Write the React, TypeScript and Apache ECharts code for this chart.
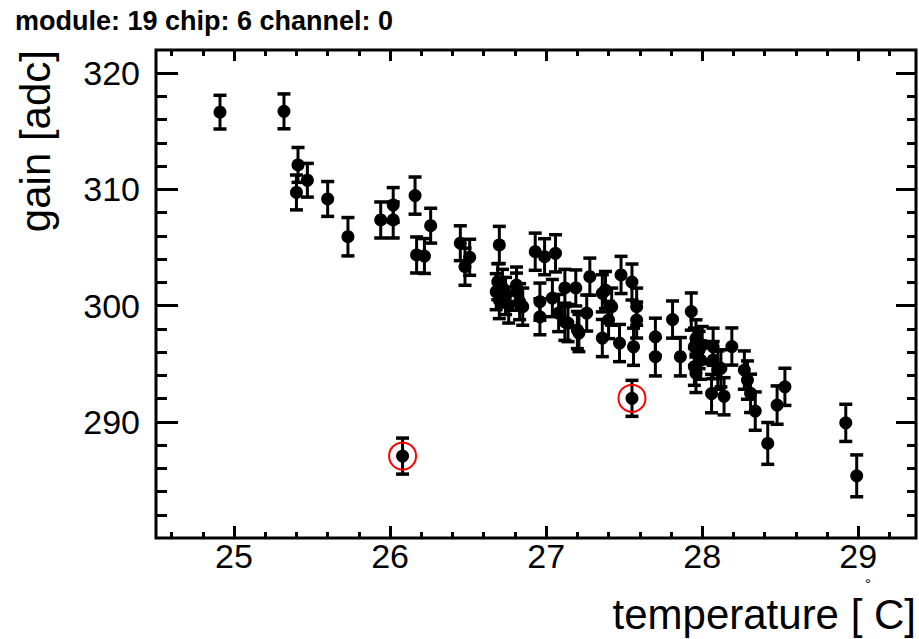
import React, { useEffect, useRef } from "react";
import * as echarts from "echarts";

// measured temperature [°C]
const temperature = [
  24.91, 25.32, 25.41, 25.40, 25.47, 25.60, 25.73, 25.94, 26.02, 26.02,
  26.16, 26.17, 26.22, 26.26, 26.45, 26.51, 26.48, 26.70, 26.69, 26.68,
  26.70, 26.72, 26.81, 26.81, 26.83, 26.85, 26.74, 26.76, 26.93, 26.99,
  27.06, 26.96, 26.96, 27.04, 27.12, 27.19, 27.08, 27.14, 27.21, 27.28,
  27.26, 27.38, 27.48, 27.55, 27.36, 27.42, 27.40, 27.47, 27.58, 27.58,
  27.56, 27.70, 27.70, 27.81, 27.93, 27.86, 27.95, 27.98, 27.99, 27.95,
  28.07, 28.10, 28.06, 28.14, 28.19, 28.27, 28.29, 28.31, 28.34, 28.42,
  28.48, 28.53, 28.92, 28.99, 26.08, 27.55, 27.12, 27.20, 27.36, 27.96,
  28.00, 27.96, 28.07, 28.12,
];

// gain [adc]
const gain = [
  316.65, 316.72, 312.11, 309.74, 310.79, 309.18, 305.93, 307.37, 308.66, 307.37,
  309.47, 304.36, 304.27, 306.88, 305.37, 304.16, 303.35, 305.22, 302.06, 301.20,
  300.48, 301.52, 301.77, 301.20, 300.34, 299.91, 300.83, 300.05, 304.64, 304.21,
  304.50, 300.34, 299.04, 300.65, 301.52, 301.52, 299.36, 298.50, 297.64, 302.49,
  299.36, 301.34, 302.64, 302.03, 297.21, 299.91, 298.76, 296.78, 299.91, 298.76,
  296.46, 297.32, 295.60, 298.80, 299.49, 295.60, 296.46, 296.18, 295.31, 294.74,
  295.31, 294.45, 292.43, 292.20, 296.48, 294.45, 293.59, 292.45, 290.92, 288.14,
  291.44, 293.01, 289.91, 285.35, 287.05, 292.02, 298.61, 297.90, 301.06, 297.18,
  296.60, 294.17, 296.46, 294.60,
];

// gain uncertainty [adc]
const gainError = [
  1.45, 1.50, 1.50, 1.50, 1.45, 1.50, 1.65, 1.55, 1.50, 1.55,
  1.60, 1.55, 1.50, 1.50, 1.50, 1.55, 1.60, 1.60, 1.55, 1.55,
  1.60, 1.60, 1.55, 1.60, 1.55, 1.60, 1.60, 1.55, 1.60, 1.55,
  1.60, 1.60, 1.55, 1.60, 1.60, 1.55, 1.60, 1.60, 1.60, 1.60,
  1.55, 1.60, 1.60, 1.55, 1.60, 1.60, 1.60, 1.60, 1.60, 1.55,
  1.60, 1.60, 1.65, 1.60, 1.60, 1.65, 1.60, 1.60, 1.65, 1.60,
  1.60, 1.65, 1.65, 1.60, 1.60, 1.65, 1.65, 1.65, 1.65, 1.80,
  1.65, 1.60, 1.60, 1.80, 1.55, 1.55, 1.60, 1.60, 1.60, 1.60,
  1.60, 1.65, 1.60, 1.60,
];

// points marked as outliers (indices into the arrays above)
const flaggedIndices = [74, 75];

const xMajorTicks = [25, 26, 27, 28, 29];
const xMinorTicks = [
  24.6, 24.8, 25.2, 25.4, 25.6, 25.8, 26.2, 26.4, 26.6, 26.8,
  27.2, 27.4, 27.6, 27.8, 28.2, 28.4, 28.6, 28.8, 29.2,
];
const yMajorTicks = [290, 300, 310, 320];
const yMinorTicks = [
  282, 284, 286, 288, 292, 294, 296, 298, 302, 304, 306, 308, 312, 314, 316, 318,
];

const X_MIN = 24.5;
const X_MAX = 29.37;
const Y_MIN = 280;
const Y_MAX = 322;

const FONT = "Liberation Sans, Arial, Helvetica, sans-serif";

export default function App() {
  const ref = useRef<HTMLDivElement>(null);

  useEffect(() => {
    if (!ref.current) return;
    const chart = echarts.init(ref.current, undefined, { renderer: "svg" });

    const gridRect = { left: 156, top: 50, width: 760, height: 488 };
    const tickLine = { color: "#000", width: 3 };

    const xAxisBase = {
      type: "value" as const,
      min: X_MIN,
      max: X_MAX,
      axisLine: { show: false },
      splitLine: { show: false },
    };
    const yAxisBase = {
      type: "value" as const,
      min: Y_MIN,
      max: Y_MAX,
      axisLine: { show: false },
      splitLine: { show: false },
    };

    const points = temperature.map((t, i) => [t, gain[i]]);
    const bars = temperature.map((t, i) => [
      t,
      gain[i] - gainError[i],
      gain[i] + gainError[i],
    ]);
    const flagged = flaggedIndices.map((i) => [temperature[i], gain[i]]);

    chart.setOption({
      animation: false,
      backgroundColor: "#fff",
      title: {
        text: "module: 19 chip: 6 channel: 0",
        left: 10,
        top: 2,
        textStyle: {
          fontFamily: FONT,
          fontSize: 27,
          fontWeight: "bold",
          color: "#000",
        },
      },
      grid: [
        {
          ...gridRect,
          show: true,
          borderColor: "#000",
          borderWidth: 3,
          backgroundColor: "transparent",
        },
        { ...gridRect, show: false },
      ],
      xAxis: [
        {
          ...xAxisBase,
          gridIndex: 0,
          position: "bottom",
          axisTick: {
            show: true,
            inside: true,
            length: 12,
            customValues: xMajorTicks,
            lineStyle: tickLine,
          },
          axisLabel: {
            customValues: xMajorTicks,
            margin: 1,
            fontSize: 34,
            fontFamily: FONT,
            color: "#000",
          },
        },
        {
          ...xAxisBase,
          gridIndex: 0,
          position: "top",
          axisTick: {
            show: true,
            inside: true,
            length: 11,
            customValues: xMajorTicks,
            lineStyle: tickLine,
          },
          axisLabel: { show: false },
        },
        {
          ...xAxisBase,
          gridIndex: 1,
          position: "bottom",
          axisTick: {
            show: true,
            inside: true,
            length: 6,
            customValues: xMinorTicks,
            lineStyle: tickLine,
          },
          axisLabel: { show: false },
        },
        {
          ...xAxisBase,
          gridIndex: 1,
          position: "top",
          axisTick: {
            show: true,
            inside: true,
            length: 6,
            customValues: xMinorTicks,
            lineStyle: tickLine,
          },
          axisLabel: { show: false },
        },
      ],
      yAxis: [
        {
          ...yAxisBase,
          gridIndex: 0,
          position: "left",
          axisTick: {
            show: true,
            inside: true,
            length: 22,
            customValues: yMajorTicks,
            lineStyle: tickLine,
          },
          axisLabel: {
            customValues: yMajorTicks,
            margin: 16,
            fontSize: 34,
            fontFamily: FONT,
            color: "#000",
          },
        },
        {
          ...yAxisBase,
          gridIndex: 0,
          position: "right",
          axisTick: {
            show: true,
            inside: true,
            length: 20,
            customValues: yMajorTicks,
            lineStyle: tickLine,
          },
          axisLabel: { show: false },
        },
        {
          ...yAxisBase,
          gridIndex: 1,
          position: "left",
          axisTick: {
            show: true,
            inside: true,
            length: 11,
            customValues: yMinorTicks,
            lineStyle: tickLine,
          },
          axisLabel: { show: false },
        },
        {
          ...yAxisBase,
          gridIndex: 1,
          position: "right",
          axisTick: {
            show: true,
            inside: true,
            length: 9,
            customValues: yMinorTicks,
            lineStyle: tickLine,
          },
          axisLabel: { show: false },
        },
      ],
      graphic: [
        {
          type: "text",
          x: 35,
          y: 50,
          rotation: Math.PI / 2,
          style: {
            text: "gain [adc]",
            fontFamily: FONT,
            fontSize: 42,
            fill: "#000",
            textAlign: "right",
            textVerticalAlign: "middle",
          },
        },
        {
          type: "text",
          x: 916,
          y: 614,
          style: {
            text: "temperature [ C]",
            fontFamily: FONT,
            fontSize: 42,
            lineHeight: 38,
            fill: "#000",
            textAlign: "right",
            textVerticalAlign: "middle",
          },
        },
        {
          type: "text",
          x: 868,
          y: 577,
          style: {
            text: "°",
            fontFamily: FONT,
            fontSize: 15,
            lineHeight: 13,
            fill: "#000",
            textAlign: "center",
            textVerticalAlign: "top",
          },
        },
      ],
      series: [
        {
          type: "custom",
          name: "error",
          xAxisIndex: 0,
          yAxisIndex: 0,
          data: bars,
          encode: { x: 0, y: [1, 2] },
          z: 2,
          renderItem: (params: any, api: any) => {
            const x = api.value(0);
            const lo = api.coord([x, api.value(1)]);
            const hi = api.coord([x, api.value(2)]);
            const cap = 6.5;
            const style = { stroke: "#000", lineWidth: 3 };
            const capStyle = { stroke: "#000", lineWidth: 3.5 };
            return {
              type: "group",
              children: [
                {
                  type: "line",
                  shape: { x1: lo[0], y1: lo[1], x2: hi[0], y2: hi[1] },
                  style,
                },
                {
                  type: "line",
                  shape: { x1: lo[0] - cap, y1: lo[1], x2: lo[0] + cap, y2: lo[1] },
                  style: capStyle,
                },
                {
                  type: "line",
                  shape: { x1: hi[0] - cap, y1: hi[1], x2: hi[0] + cap, y2: hi[1] },
                  style: capStyle,
                },
              ],
            };
          },
        },
        {
          type: "scatter",
          name: "gain",
          xAxisIndex: 0,
          yAxisIndex: 0,
          data: points,
          symbol: "circle",
          symbolSize: 13,
          itemStyle: { color: "#000", opacity: 1 },
          z: 3,
        },
        {
          type: "scatter",
          name: "flagged",
          xAxisIndex: 0,
          yAxisIndex: 0,
          data: flagged,
          symbol: "circle",
          symbolSize: 27,
          itemStyle: {
            color: "rgba(0,0,0,0)",
            borderColor: "#ff0000",
            borderWidth: 2,
            opacity: 1,
          },
          z: 4,
        },
      ],
    });

    return () => chart.dispose();
  }, []);

  return (
    <div
      ref={ref}
      style={{ position: "absolute", left: 0, top: 0, width: 919, height: 639 }}
    />
  );
}
